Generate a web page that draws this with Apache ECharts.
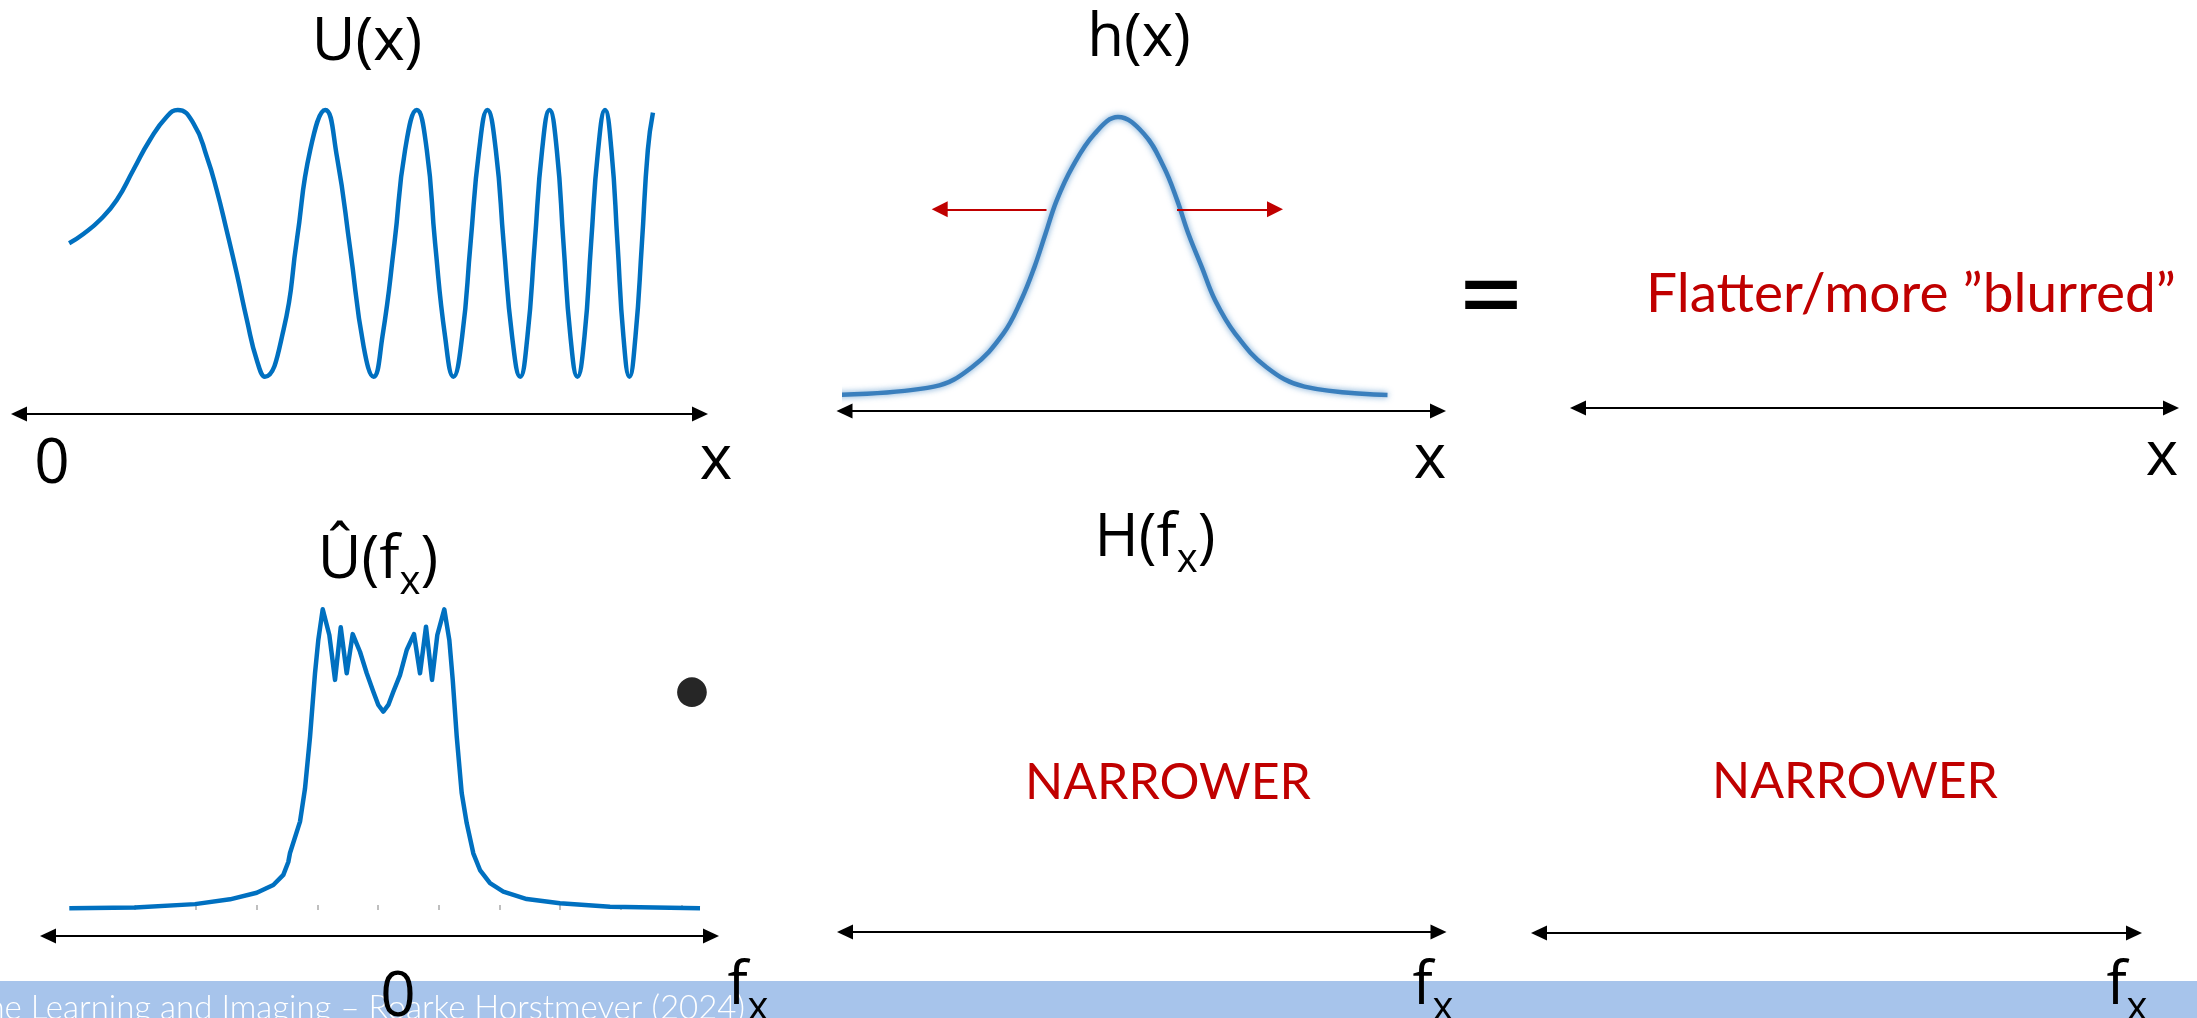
<!DOCTYPE html>
<html>
<head>
<meta charset="utf-8">
<script src="https://cdn.jsdelivr.net/npm/echarts@6/dist/echarts.min.js"></script>
<style>
  html, body { margin: 0; padding: 0; background: #fff; }
  #chart { width: 2197px; height: 1018px; }
</style>
</head>
<body>
<div id="chart"></div>
<script>
// U(x): chirp (x along the curve, value -1..1)
const chirpX = [0, 0.245, 0.53, 0.82, 1.105, 1.39, 1.68, 1.87, 2.14, 2.37, 2.54, 2.71, 2.885, 3.06, 3.23, 3.37,
  3.69, 3.92, 4.15, 4.41, 4.61, 4.84, 5.07, 5.24,
  5.393, 5.6, 5.783, 5.985, 6.157, 6.3, 6.472, 6.615, 6.765, 6.91, 7.058, 7.2, 7.345, 7.48, 7.626, 7.765,
  7.889, 8.015, 8.142, 8.27, 8.395, 8.51, 8.63, 8.75, 8.871, 8.985, 9.106, 9.225, 9.335, 9.44, 9.542, 9.645,
  9.749, 9.86, 9.962, 10.05];
const chirpY = [0, 0.07, 0.175, 0.325, 0.55, 0.775, 0.95, 1, 0.9, 0.65, 0.4, 0.1, -0.225, -0.575, -0.875, -1,
  -0.65, 0.025, 0.7, 1, 0.65, -0.05, -0.775, -1,
  -0.7, 0, 0.7, 1, 0.7, 0, -0.7, -1, -0.7, 0, 0.7, 1, 0.7, 0, -0.7, -1,
  -0.7, 0, 0.7, 1, 0.7, 0, -0.7, -1, -0.7, 0, 0.7, 1, 0.7, 0, -0.7, -1,
  -0.7, 0, 0.7, 0.98];

// h(x): blurred gaussian
const gaussX = [-5.752, -3.682, -2.922, -2.298, -1.94, -1.672, -1.45, -1.226, -0.914, -0.468, 0,
  0.516, 0.916, 1.184, 1.408, 1.676, 1.944, 2.346, 2.97, 3.73, 5.39];
const gaussY = [0, 0.03, 0.10, 0.22, 0.34, 0.46, 0.58, 0.70, 0.82, 0.94, 1,
  0.94, 0.82, 0.70, 0.58, 0.46, 0.34, 0.22, 0.10, 0.03, 0];

// red "spreading" arrows on h(x)
const spreadFrom = [-1.43, 1.18];
const spreadTo = [-3.566, 3.14];
const spreadLevel = 0.668;

// Û(fx): spectrum
const specX = [-5.086, -4.003, -3.015, -2.438, -1.998, -1.725, -1.560, -1.478, -1.450, -1.285, -1.203, -1.120,
  -1.038, -0.984, -0.911, -0.802, -0.708, -0.614, -0.516, -0.417, -0.297, -0.186, -0.077, 0.005, 0.087,
  0.170, 0.252, 0.362, 0.473, 0.593, 0.692, 0.791, 0.890, 0.977, 1.092, 1.175, 1.231, 1.297, 1.379,
  1.461, 1.570, 1.680, 1.845, 2.064, 2.450, 2.998, 3.822, 5.305];
const specY = [0, 0.003, 0.014, 0.030, 0.052, 0.078, 0.112, 0.155, 0.185, 0.290, 0.400, 0.574,
  0.786, 0.897, 1.0, 0.914, 0.764, 0.940, 0.786, 0.917, 0.858, 0.786, 0.724, 0.680, 0.658,
  0.680, 0.724, 0.780, 0.864, 0.917, 0.786, 0.942, 0.764, 0.914, 1.0, 0.897, 0.764, 0.574, 0.385,
  0.285, 0.184, 0.128, 0.084, 0.056, 0.031, 0.017, 0.005, 0];
const specTicks = [-4, -3, -2, -1, 0, 1, 2, 3, 4, 5];

const footerText = "Machine Learning and Imaging – Roarke Horstmeyer (2024)";

const zip = (xs, ys) => xs.map((x, i) => [x, ys[i]]);

const FONT = "Lato, 'Open Sans', sans-serif";
const LABEL_FONT = "'Open Sans', Lato, sans-serif";
const BLUE = "#0070C0";
const RED = "#C00000";

function arrowAxis(gridIndex, min, max) {
  return {
    type: "value", gridIndex: gridIndex, min: min, max: max,
    axisLine: {
      show: true, onZero: false,
      symbol: ["triangle", "triangle"], symbolSize: [15, 16],
      lineStyle: { color: "#000", width: 2 }
    },
    axisTick: { show: false },
    axisLabel: { show: false },
    splitLine: { show: false }
  };
}
function hiddenY(gridIndex, min, max) {
  return { type: "value", gridIndex: gridIndex, min: min, max: max, show: false, splitLine: { show: false } };
}

const richSub = {
  m: { fontSize: 60, lineHeight: 62, verticalAlign: "top", fontFamily: LABEL_FONT, fontWeight: 400, fill: "#000" },
  s: { fontSize: 40, lineHeight: 40, verticalAlign: "top", padding: [32, 0, 0, 0], fontFamily: LABEL_FONT, fontWeight: 400, fill: "#000" }
};

function label(text, x, y, size, color, weight, family) {
  return {
    type: "text", x: x, y: y, z: 10,
    style: {
      text: text, fill: color || "#000", align: "center", verticalAlign: "middle",
      font: (weight || 400) + " " + size + "px " + (family || LABEL_FONT)
    }
  };
}
function subLabel(main, sub, tail, x, y) {
  return {
    type: "text", x: x, y: y, z: 10,
    style: {
      text: "{m|" + main + "}{s|" + sub + "}{m|" + tail + "}",
      align: "center", verticalAlign: "middle", rich: richSub
    }
  };
}

const chart = echarts.init(document.getElementById("chart"));
chart.setOption({
  backgroundColor: "#fff",
  animation: false,
  grid: [
    { left: 19, top: 110, width: 681, height: 304 },      // U(x)
    { left: 844.5, top: 117, width: 593.5, height: 294 }, // h(x)
    { left: 1578, top: 300, width: 593, height: 108 },    // result x
    { left: 48, top: 609.3, width: 663, height: 326.7 },  // Û(fx)
    { left: 845, top: 600, width: 593.5, height: 332 },   // H(fx)
    { left: 1539, top: 600, width: 595, height: 333 },    // result fx
    { left: 48, top: 600, width: 663, height: 305 }       // spectrum ticks
  ],
  xAxis: [
    arrowAxis(0, -0.863, 10.86),
    arrowAxis(1, -5.47, 6.4),
    arrowAxis(2, 0, 1),
    arrowAxis(3, -5.437, 5.486),
    arrowAxis(4, 0, 1),
    arrowAxis(5, 0, 1),
    {
      type: "value", gridIndex: 6, min: -5.437, max: 5.486,
      axisLine: { show: false },
      axisTick: { show: true, customValues: specTicks, length: 5, lineStyle: { color: "#aaa", width: 1.5 } },
      axisLabel: { show: false },
      splitLine: { show: false }
    }
  ],
  yAxis: [
    hiddenY(0, -1.28, 1),
    hiddenY(1, -0.0576, 1),
    hiddenY(2, 0, 1),
    hiddenY(3, -0.0926, 1),
    hiddenY(4, 0, 1),
    hiddenY(5, 0, 1),
    hiddenY(6, 0, 1)
  ],
  series: [
    {
      name: "U(x)", type: "line", xAxisIndex: 0, yAxisIndex: 0,
      data: zip(chirpX, chirpY), smooth: 0.5, showSymbol: false, clip: false, silent: true,
      lineStyle: { color: BLUE, width: 4.5 }
    },
    {
      name: "h(x)", type: "line", xAxisIndex: 1, yAxisIndex: 1,
      data: zip(gaussX, gaussY), smooth: 0.4, showSymbol: false, clip: false, silent: true,
      lineStyle: { color: "#3a7fbd", width: 4.5, shadowBlur: 6, shadowColor: "rgba(58,128,192,0.75)" },
      markLine: {
        silent: true, animation: false,
        symbol: ["none", "triangle"], symbolSize: [16, 16],
        label: { show: false },
        lineStyle: { color: RED, width: 2, type: "solid" },
        data: spreadFrom.map((x, i) => [
          { coord: [x, spreadLevel] },
          { coord: [spreadTo[i], spreadLevel] }
        ])
      }
    },
    {
      name: "Û(fx)", type: "line", xAxisIndex: 3, yAxisIndex: 3,
      data: zip(specX, specY), smooth: false, showSymbol: false, clip: false, silent: true,
      lineStyle: { color: BLUE, width: 4.5, join: "round" }
    }
  ],
  graphic: [
    { type: "rect", z: 0, shape: { x: 0, y: 981, width: 2197, height: 37 }, style: { fill: "#A7C4EB" } },
    {
      type: "text", z: 1, x: 745, y: 992,
      style: { text: footerText, fill: "#fff", align: "right", verticalAlign: "top", font: "300 33px " + FONT }
    },
    label("U(x)", 367, 43, 60),
    label("h(x)", 1139, 39, 60),
    label("0", 52, 465, 62),
    label("x", 716, 461, 62),
    label("x", 1430, 460, 62),
    label("x", 2162, 457, 62),
    label("=", 1491, 296, 120, "#000", 400, FONT),
    label("Flatter/more ”blurred”", 1911, 294, 55, RED, 400, FONT),
    subLabel("Û(f", "x", ")", 378, 562),
    subLabel("H(f", "x", ")", 1155, 540),
    label("•", 692, 690, 80, "#262626", 400, FONT),
    label("NARROWER", 1168, 783, 50, RED, 400, FONT),
    label("NARROWER", 1855, 782, 50, RED, 400, FONT),
    label("0", 398, 998, 62),
    subLabel("f", "x", "", 748, 988),
    subLabel("f", "x", "", 1433, 988),
    subLabel("f", "x", "", 2127, 988)
  ]
});
</script>
</body>
</html>
